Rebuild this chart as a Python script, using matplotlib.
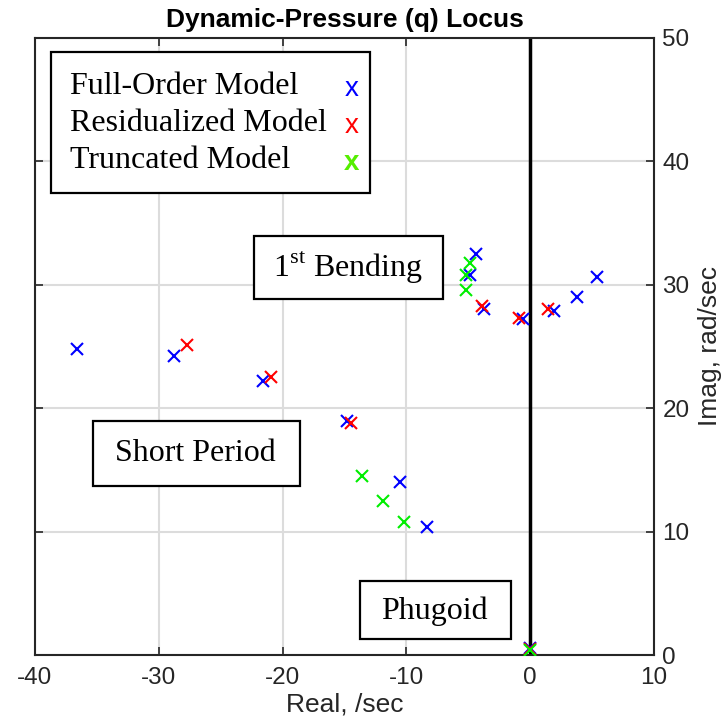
import matplotlib
matplotlib.use("Agg")
import matplotlib.pyplot as plt
from matplotlib.patches import Rectangle

# Data (real, imag)
full_re = [-36.6, -28.8, -21.6, -14.8, -10.5, -8.3, -4.4, -4.9, -3.7, -0.6, 1.9, 3.8, 5.4, 0.0]
full_im = [24.8, 24.2, 22.2, 19.0, 14.0, 10.4, 32.5, 30.8, 28.0, 27.2, 27.9, 29.0, 30.6, 0.6]
resid_re = [-27.7, -20.9, -14.5, -3.9, -0.9, 1.4, 0.0]
resid_im = [25.1, 22.5, 18.8, 28.3, 27.3, 28.0, 0.5]
trunc_re = [-13.6, -11.9, -10.2, -4.9, -5.2, -5.2, 0.0]
trunc_im = [14.5, 12.5, 10.8, 31.8, 30.8, 29.6, 0.4]

xticks = [-40, -30, -20, -10, 0, 10]
xticklabels = ["-40", "-30", "-20", "-10", "0", "10"]
yticks = [0, 10, 20, 30, 40, 50]
yticklabels = ["0", "10", "20", "30", "40", "50"]

plt.rcParams['mathtext.fontset'] = 'custom'
plt.rcParams['mathtext.rm'] = 'Liberation Serif'
plt.rcParams['axes.unicode_minus'] = False

fig = plt.figure(figsize=(7.23, 7.19), dpi=100)
ax = fig.add_axes([35/723, 1-655/719, 619/723, 617/719])

ax.set_xlim(-40, 10)
ax.set_ylim(0, 50)
ax.grid(True, color='#dcdcdc', lw=1.5)
ax.set_axisbelow(True)

ax.axvline(0, color='black', lw=2.5, zorder=2)

ms = 9
ax.plot(full_re, full_im, 'x', color='#0000ff', ms=ms, mew=1.5, zorder=3)
ax.plot(resid_re, resid_im, 'x', color='#ff0000', ms=ms, mew=1.5, zorder=3)
ax.plot(trunc_re, trunc_im, 'x', color='#00ee00', ms=ms, mew=1.5, zorder=3)

sans = 'Liberation Sans'
tfs = 17.5
ax.set_xticks(xticks)
ax.set_xticklabels(xticklabels, family=sans)
ax.set_yticks(yticks)
ax.set_yticklabels(yticklabels, family=sans)
ax.yaxis.tick_right()
ax.yaxis.set_label_position('right')
ax.tick_params(direction='in', length=6, width=1.2, labelsize=tfs, colors='#262626',
               top=True, bottom=True, left=True, right=True, labelcolor='#262626')
ax.tick_params(axis='x', pad=9)
ax.tick_params(axis='y', pad=6)
for s in ax.spines.values():
    s.set_color('#262626')
    s.set_linewidth(1.5)

ax.set_xlabel('Real, /sec', fontsize=19, color='#262626', labelpad=2, family=sans)
ax.set_ylabel('Imag, rad/sec', fontsize=19, color='#262626', labelpad=6, family=sans)
ax.set_title('Dynamic-Pressure (q) Locus', fontsize=19, fontweight='bold',
             family=sans, pad=8)

def box(x0, y0, x1, y1):
    ax.add_patch(Rectangle((x0, y0), x1-x0, y1-y0, transform=ax.transAxes,
                           fill=True, facecolor='white', edgecolor='black',
                           lw=1.6, zorder=4))

serif = 'Liberation Serif'
fs = 23

# legend-like box
box(0.0258, 0.749, 0.541, 0.977)
leg = [("Full-Order Model", '#0000ff', 0.921, 'normal'),
       ("Residualized Model", '#ff0000', 0.861, 'normal'),
       ("Truncated Model", '#55ee00', 0.802, 'bold')]
for txt, col, yy, wt in leg:
    ax.text(0.0565, yy, txt, transform=ax.transAxes, fontsize=fs, family=serif,
            va='center', ha='left', zorder=5)
    ax.text(0.512, yy - 0.004, 'x', transform=ax.transAxes, fontsize=20,
            family=sans, color=col, va='center', ha='center',
            fontweight=wt, zorder=5)

box(0.0937, 0.274, 0.428, 0.379)
ax.text(0.2585, 0.326, 'Short Period', transform=ax.transAxes, fontsize=fs,
        family=serif, ha='center', va='center', zorder=5)

box(0.354, 0.577, 0.659, 0.679)
ax.text(0.506, 0.628, r'1$^{\mathrm{st}}$ Bending', transform=ax.transAxes,
        fontsize=fs, family=serif, ha='center', va='center', zorder=5)

box(0.525, 0.0259, 0.769, 0.120)
ax.text(0.646, 0.071, 'Phugoid', transform=ax.transAxes, fontsize=fs,
        family=serif, ha='center', va='center', zorder=5)

fig.savefig('out.png', dpi=100)
